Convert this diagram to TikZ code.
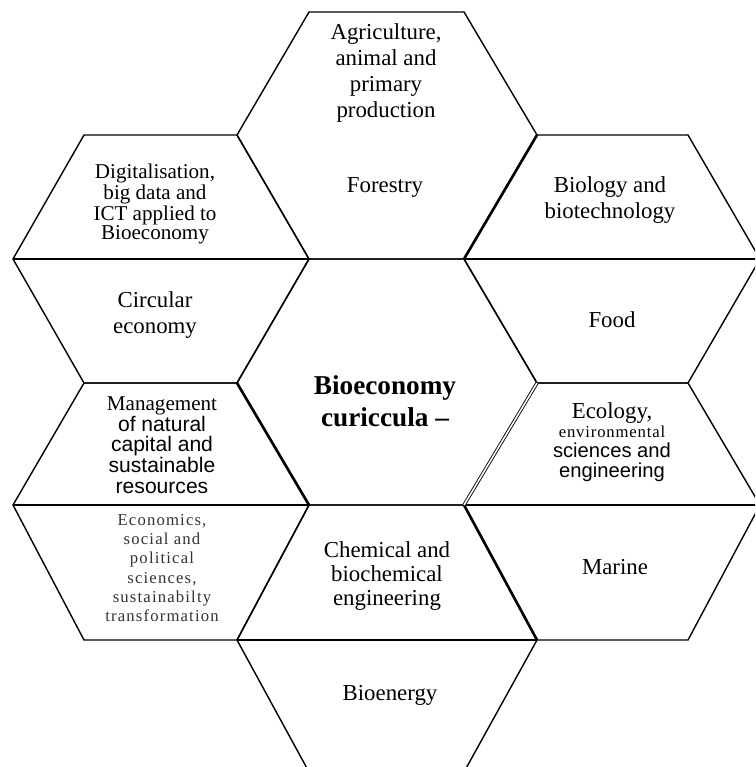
\documentclass[tikz,border=0pt]{standalone}
\usepackage{fontspec}
\setmainfont{Liberation Serif}
\setsansfont{Liberation Sans}

\begin{document}
\begin{tikzpicture}[x=0.02cm,y=-0.02cm,
    cell/.style={line width=0.8pt,line join=miter},
    seam/.style={line width=1.5pt},
    dseam/.style={double,double distance=0.9pt,line width=0.5pt},
    lbl/.style={align=center,inner sep=0pt,font=\fontsize{13}{14.7}\selectfont},
    spaced/.style={font=\fontsize{9.5}{11}\selectfont\addfontfeatures{LetterSpace=7}}]

    \clip (0,0) rectangle (755,767);

    \draw[cell] (309,12) -- (464,12) -- (537,135) -- (464,259) -- (309,259) -- (237,135) -- cycle;
    \draw[cell] (309,259) -- (464,259) -- (537,383) -- (464,505) -- (309,505) -- (237,383) -- cycle;
    \draw[cell] (309,505) -- (464,505) -- (537,640) -- (464,772) -- (309,772) -- (237,640) -- cycle;
    \draw[cell] (237,640) -- (537,640);

    \draw[cell] (84,135) -- (237,135) -- (309,259) -- (237,383) -- (84,383) -- (13,259) -- cycle;
    \draw[cell] (13,259) -- (309,259);
    \draw[cell] (84,383) -- (237,383) -- (309,505) -- (237,640) -- (84,640) -- (13,505) -- cycle;
    \draw[cell] (13,505) -- (309,505);

    \draw[cell] (537,135) -- (688,135) -- (760,259) -- (688,383) -- (537,383) -- (464,259) -- cycle;
    \draw[cell] (464,259) -- (760,259);
    \draw[cell] (537,383) -- (688,383) -- (760,505) -- (688,640) -- (537,640) -- (464,505) -- cycle;
    \draw[cell] (464,505) -- (760,505);

    \draw[seam] (237,383) -- (309,505);
    \draw[seam] (537,135) -- (464,259);
    \draw[seam] (464,505) -- (537,640);
    \draw[dseam] (537,383) -- (464,505);

    \node[lbl] (agri) at (386,73) {Agriculture,\\animal and\\primary\\production};
    \node[lbl] (forest) at (385,187) {Forestry};

    \node[lbl,font=\fontsize{12}{10.8}\selectfont] (digital) at (155,204) {Digitalisation,\\big data and\\ICT applied to\\Bioeconomy};
    \node[lbl] (circular) at (155,315) {Circular\\economy};

    \node[lbl] (biology) at (610,200) {Biology and\\biotechnology};
    \node[lbl] (food) at (612,320) {Food};

    \node[lbl,font=\fontsize{15.5}{18.2}\selectfont\bfseries] (core) at (385,401) {Bioeconomy\\curiccula --};

    \node[lbl,font=\fontsize{12}{11.8}\selectfont] (natural) at (162,445) {Management\\\sffamily of natural\\\sffamily capital and\\\sffamily sustainable\\\sffamily resources};
    \node[lbl,spaced,text=black!80] (econ) at (162,568) {Economics,\\social and\\political\\sciences,\\sustainabilty\\transformation};

    \node[lbl,font=\fontsize{13}{11.3}\selectfont] (ecology) at (612,442) {Ecology,\\{\fontsize{9.5}{11.3}\selectfont\addfontfeatures{LetterSpace=5}environmental}\\\sffamily\fontsize{11.5}{11.3}\selectfont sciences and\\\sffamily\fontsize{11.5}{11.3}\selectfont engineering};
    \node[lbl] (marine) at (615,567) {Marine};

    \node[lbl,font=\fontsize{13}{13.6}\selectfont] (chem) at (387,576) {Chemical and\\biochemical\\engineering};
    \node[lbl] (energy) at (390,695) {Bioenergy};
\end{tikzpicture}
\end{document}
